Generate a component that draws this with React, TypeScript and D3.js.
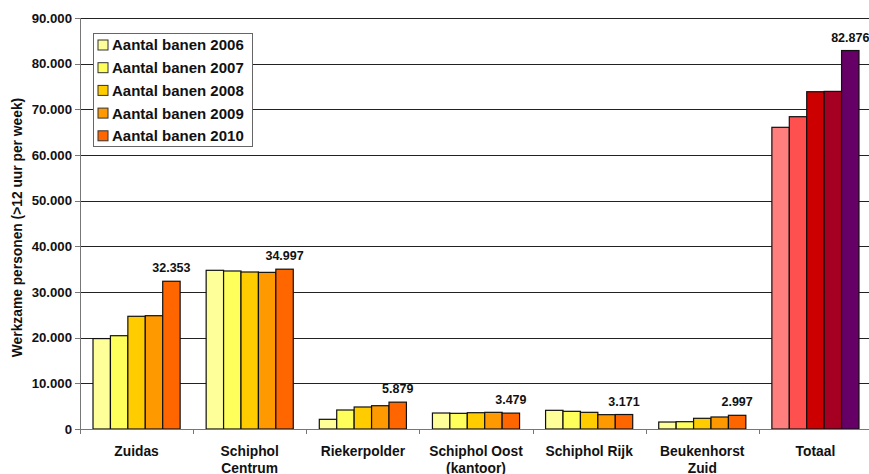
import { useEffect, useRef } from "react";
import * as d3 from "d3";

const categories = [
  ["Zuidas"],
  ["Schiphol", "Centrum"],
  ["Riekerpolder"],
  ["Schiphol Oost", "(kantoor)"],
  ["Schiphol Rijk"],
  ["Beukenhorst", "Zuid"],
  ["Totaal"],
];
const years = ["2006", "2007", "2008", "2009", "2010"];
const seriesLabels = years.map((y) => `Aantal banen ${y}`);

const values2006 = [19800, 34750, 2120, 3500, 4090, 1530, 66060];
const values2007 = [20430, 34600, 4160, 3430, 3870, 1600, 68390];
const values2008 = [24680, 34380, 4820, 3570, 3650, 2340, 73860];
const values2009 = [24810, 34300, 5100, 3650, 3140, 2630, 73930];
const values2010 = [32353, 34997, 5879, 3479, 3171, 2997, 82876];
const series = [values2006, values2007, values2008, values2009, values2010];

const yearColors = ["#FFFF99", "#FFFF5C", "#FFCC00", "#FF9900", "#FF6600"];
const totalColors = ["#FF7F7F", "#FF5050", "#CC0000", "#A50021", "#660066"];

const yTicks = [0, 10000, 20000, 30000, 40000, 50000, 60000, 70000, 80000, 90000];
const yTitle = "Werkzame personen (>12 uur per week)";

const nl = d3.formatLocale({ decimal: ",", thousands: ".", grouping: [3], currency: ["€", ""] });
const fmt = nl.format(",.0f");

export default function App() {
  const svgRef = useRef<SVGSVGElement | null>(null);

  useEffect(() => {
    const svgEl = svgRef.current;
    if (!svgEl) return;
    const width = 869;
    const height = 474;
    const margin = { top: 18, right: -3, bottom: 45, left: 80 };
    const plotW = width - margin.left - margin.right;
    const plotH = height - margin.top - margin.bottom;

    const svg = d3.select(svgEl);
    svg.selectAll("*").remove();

    const font = "Liberation Sans, Arial, sans-serif";
    const g = svg.append("g").attr("transform", `translate(${margin.left},${margin.top})`);

    const x0 = d3.scaleBand<number>().domain(d3.range(categories.length)).range([0, plotW]).paddingInner(0.23).paddingOuter(0.115);
    const x1 = d3.scaleBand<number>().domain(d3.range(years.length)).range([0, x0.bandwidth()]);
    const y = d3.scaleLinear().domain([0, 90000]).range([plotH, 0]);

    // gridlines
    g.append("g")
      .selectAll("line")
      .data(yTicks.filter((t) => t > 0))
      .join("line")
      .attr("x1", 0)
      .attr("x2", plotW)
      .attr("y1", (d) => Math.round(y(d)) + 0.5)
      .attr("y2", (d) => Math.round(y(d)) + 0.5)
      .attr("stroke", "#222")
      .attr("stroke-width", 1);

    // bars
    const groups = g
      .selectAll("g.grp")
      .data(d3.range(categories.length))
      .join("g")
      .attr("class", "grp")
      .attr("transform", (i) => `translate(${x0(i)},0)`);

    groups
      .selectAll("rect")
      .data((i) => series.map((s, j) => ({ i, j, v: s[i] })))
      .join("rect")
      .attr("x", (d) => x1(d.j)!)
      .attr("y", (d) => y(d.v))
      .attr("width", x1.bandwidth())
      .attr("height", (d) => plotH - y(d.v))
      .attr("fill", (d) => (d.i === categories.length - 1 ? totalColors[d.j] : yearColors[d.j]))
      .attr("stroke", "#111")
      .attr("stroke-width", 1.2);

    // value labels on 2010 bars
    groups
      .append("text")
      .attr("x", x1(4)! + x1.bandwidth() / 2)
      .attr("y", (i) => y(values2010[i]) - 9)
      .attr("text-anchor", "middle")
      .attr("font-family", font)
      .attr("font-weight", "bold")
      .attr("font-size", 12.5)
      .attr("fill", "#111")
      .text((i) => fmt(values2010[i]));

    // x axis
    const xAxis = g.append("g").attr("transform", `translate(0,${plotH})`);
    xAxis.append("line").attr("x1", 0).attr("x2", plotW).attr("y1", 0.5).attr("y2", 0.5).attr("stroke", "#777");
    xAxis
      .selectAll("line.tk")
      .data(d3.range(categories.length + 1))
      .join("line")
      .attr("class", "tk")
      .attr("x1", (i) => Math.round(i * x0.step()) + 0.5)
      .attr("x2", (i) => Math.round(i * x0.step()) + 0.5)
      .attr("y1", 0)
      .attr("y2", 5)
      .attr("stroke", "#777");
    xAxis
      .selectAll("text")
      .data(d3.range(categories.length))
      .join("text")
      .attr("x", (i) => x0(i)! + x0.bandwidth() / 2)
      .attr("y", 26.5)
      .attr("text-anchor", "middle")
      .attr("font-family", font)
      .attr("font-weight", "bold")
      .attr("font-size", 13.8)
      .attr("fill", "#111")
      .selectAll("tspan")
      .data((i) => categories[i])
      .join("tspan")
      .attr("x", function () {
        return (this.parentNode as SVGTextElement).getAttribute("x");
      })
      .attr("dy", (_, k) => (k === 0 ? 0 : 17))
      .text((d) => d);

    // y axis
    const yAxis = g.append("g");
    yAxis.append("line").attr("x1", 0.5).attr("x2", 0.5).attr("y1", 0).attr("y2", plotH).attr("stroke", "#777");
    yAxis
      .selectAll("line.tk")
      .data(yTicks)
      .join("line")
      .attr("class", "tk")
      .attr("x1", -5)
      .attr("x2", 0)
      .attr("y1", (d) => Math.round(y(d)) + 0.5)
      .attr("y2", (d) => Math.round(y(d)) + 0.5)
      .attr("stroke", "#777");
    yAxis
      .selectAll("text")
      .data(yTicks)
      .join("text")
      .attr("x", -8)
      .attr("y", (d) => y(d))
      .attr("dy", "0.35em")
      .attr("text-anchor", "end")
      .attr("font-family", font)
      .attr("font-weight", "bold")
      .attr("font-size", 13.2)
      .attr("fill", "#111")
      .text((d) => fmt(d));

    svg
      .append("text")
      .attr("transform", `translate(22,${margin.top + plotH / 2 + 4}) rotate(-90)`)
      .attr("text-anchor", "middle")
      .attr("font-family", font)
      .attr("font-weight", "bold")
      .attr("font-size", 13.8)
      .attr("fill", "#111")
      .text(yTitle);

    // legend
    const legend = svg.append("g").attr("transform", "translate(93,33)");
    legend
      .append("rect")
      .attr("x", 0.5)
      .attr("y", 0.5)
      .attr("width", 159)
      .attr("height", 113)
      .attr("fill", "#fff")
      .attr("stroke", "#666");
    const items = legend
      .selectAll("g.item")
      .data(seriesLabels)
      .join("g")
      .attr("class", "item")
      .attr("transform", (_, k) => `translate(0,${12 + k * 22.7})`);
    items
      .append("rect")
      .attr("x", 5)
      .attr("y", -5)
      .attr("width", 10)
      .attr("height", 10)
      .attr("fill", (_, k) => yearColors[k])
      .attr("stroke", "#333");
    items
      .append("text")
      .attr("x", 19)
      .attr("y", 0)
      .attr("dy", "0.36em")
      .attr("font-family", font)
      .attr("font-weight", "bold")
      .attr("font-size", 15)
      .attr("fill", "#111")
      .text((d) => d);
  }, []);

  return <svg ref={svgRef} width={869} height={474} style={{ display: "block", position: "absolute", left: 0, top: 0 }} />;
}
